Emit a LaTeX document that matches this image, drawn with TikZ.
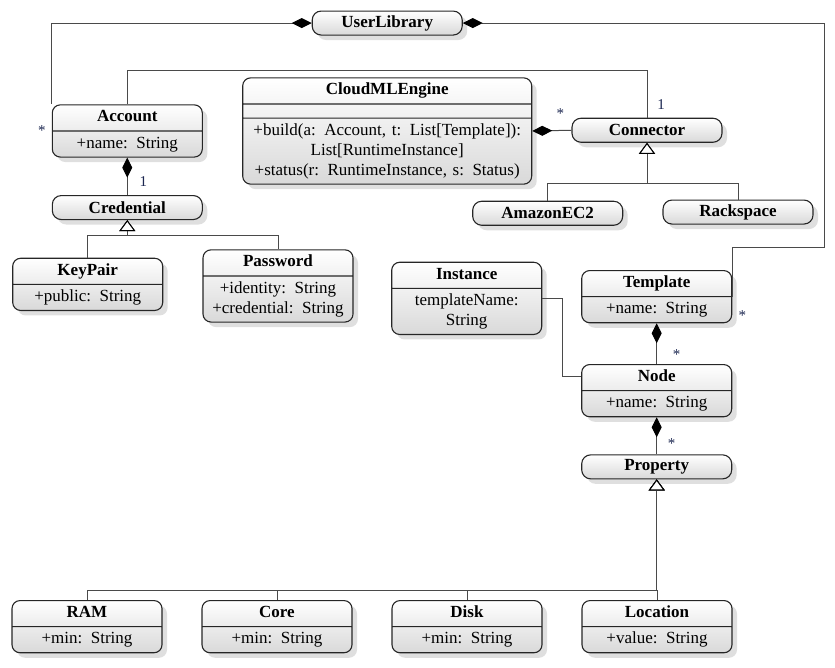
\documentclass[tikz,border=0pt]{standalone}
\usepackage{fontspec}
\setmainfont{Liberation Serif}
\usetikzlibrary{shapes.multipart,shadows,arrows.meta,calc}
\definecolor{multcol}{HTML}{1B2650}
\definecolor{linecol}{HTML}{4A4A4A}
\tikzset{
    boxbase/.style={draw=black!85, line width=1.1pt, top color=white, bottom color=black!15,
        drop shadow={shadow xshift=5pt, shadow yshift=-5pt, fill=black!25},
        font=\fontsize{17}{20}\selectfont, align=center},
    umlclass/.style={boxbase, rectangle split, rectangle split parts=2, rounded corners=8pt,
        text width=134pt, inner xsep=8pt, inner ysep=2.5pt, anchor=north},
    umlpill/.style={boxbase, rectangle, rounded corners=9pt, minimum width=150pt,
        minimum height=24pt, inner sep=0pt, anchor=north, font=\fontsize{17}{20}\selectfont\bfseries},
    conn/.style={draw=linecol, line width=1pt},
    comp/.style={conn, {Diamond[length=20pt,width=10pt,fill=black,color=black]}-},
    gen/.style={conn, {Triangle[open,length=11pt,width=16pt,fill=white,color=black]}-},
    mult/.style={text=multcol, font=\fontsize{15}{18}\selectfont, inner sep=1pt, anchor=center},
}
\newcommand\UmlClass[4]{%
    \node[umlclass] (#1) at (#2) {\strut\textbf{#3}\strut\nodepart{two}\strut#4\strut};
}
\newcommand\UmlPill[3]{%
    \node[umlpill] (#1) at (#2) {#3};
}

\begin{document}
\begin{tikzpicture}[x=1pt,y=-1pt]
    \useasboundingbox (0,0) rectangle (835,667);
    \UmlPill{UserLib}{387.2,10.5}{UserLibrary}
    \UmlClass{Account}{127.3,104.3}{Account}{+name: String}
    \UmlPill{Credential}{127.3,195}{Credential}
    \UmlClass{KeyPair}{87.7,257.7}{KeyPair}{+public: String}
    \UmlClass{Password}{278,249.3}{Password}{+identity: String\\+credential: String}
    \node[umlclass, rectangle split parts=3, text width=273pt] (Engine) at (387.2,77.3)
        {\strut\textbf{CloudMLEngine}\strut
         \nodepart{two}\rule{0pt}{8pt}
         \nodepart{three}\strut+build(a: Account, t: List[Template]):\\
         List[RuntimeInstance]\\
         +status(r: RuntimeInstance, s: Status)\strut};
    \UmlPill{Connector}{647,117.7}{Connector}
    \UmlPill{Amazon}{547.7,200.7}{AmazonEC2}
    \UmlPill{Rackspace}{738,199.5}{Rackspace}
    \UmlClass{Instance}{466.7,261.7}{Instance}{templateName:\\String}
    \UmlClass{Template}{656.7,270}{Template}{+name: String}
    \UmlClass{NodeCls}{656.7,364}{Node}{+name: String}
    \UmlPill{Property}{656.7,454.3}{Property}
    \UmlClass{RAM}{87,600}{RAM}{+min: String}
    \UmlClass{Core}{277,600}{Core}{+min: String}
    \UmlClass{Disk}{467,600}{Disk}{+min: String}
    \UmlClass{Location}{657,600}{Location}{+value: String}

    \draw[comp] (UserLib.west) -| (Account.north west)
        node[mult, xshift=-10pt, yshift=-26pt] {*};
    \draw[comp] (UserLib.east) -| (824,247) -| (Template.east)
        node[mult, xshift=10pt, yshift=-19pt] {*};
    \draw[conn] (Account.north) -- ++(0,-34) -| (Connector.north)
        node[mult, xshift=14pt, yshift=13pt] {1};
    \draw[comp] (Account.south) -- (Credential.north)
        node[mult, xshift=16pt, yshift=13pt] {1};
    \draw[gen] (Credential.south) -- ++(0,15.5) -| (KeyPair.north);
    \draw[gen] (Credential.south) -- ++(0,15.5) -| (Password.north);
    \draw[comp] (Engine.east) -- (Connector.west)
        node[mult, xshift=-11pt, yshift=16.5pt] {*};
    \draw[gen] (Connector.south) -- ++(0,41) -| (Amazon.north);
    \draw[gen] (Connector.south) -- ++(0,41) -| (Rackspace.north);
    \draw[conn] (Instance.east) -- ++(20,0) |- ($(NodeCls.north west)+(0,12.5)$);
    \draw[comp] (Template.south) -- (NodeCls.north)
        node[mult, xshift=20pt, yshift=9.5pt] {*};
    \draw[comp] (NodeCls.south) -- (Property.north)
        node[mult, xshift=15pt, yshift=10.5pt] {*};
    \foreach \sub in {RAM,Core,Disk,Location}
        \draw[gen] (Property.south) -- ++(0,110.7) -| (\sub.north);
\end{tikzpicture}
\end{document}
